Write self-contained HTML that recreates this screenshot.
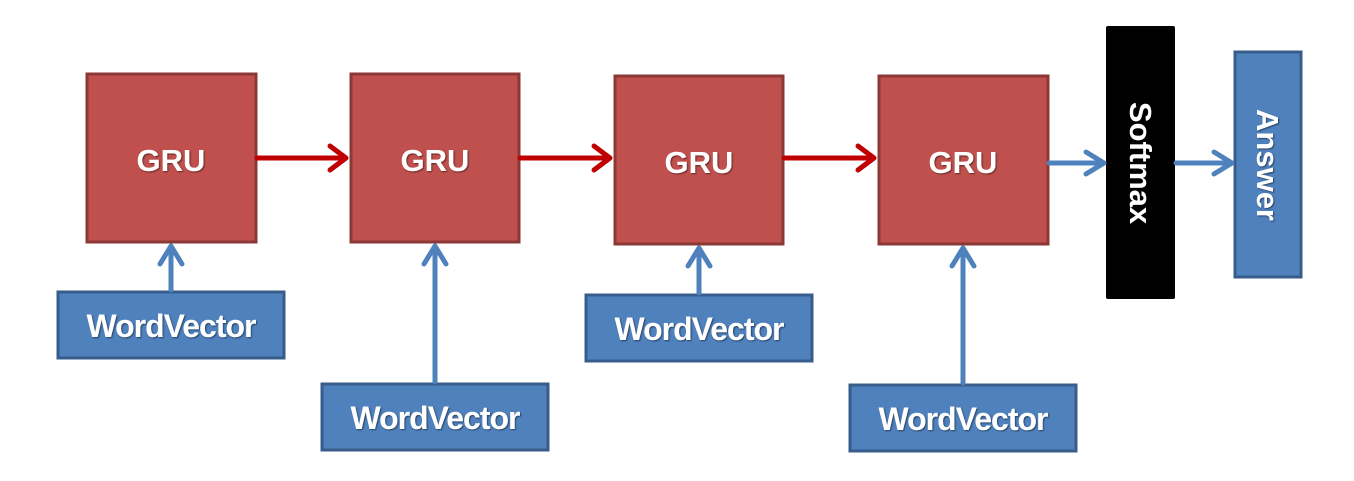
<!DOCTYPE html>
<html><head><style>
html,body{margin:0;padding:0;background:#fff;}
svg text{font-family:"Liberation Sans",sans-serif;font-weight:bold;fill:#fff;}
</style></head><body>
<svg width="1354" height="476" viewBox="0 0 1354 476" xmlns="http://www.w3.org/2000/svg">
<defs>
<filter id="sh"><feDropShadow dx="1" dy="1" stdDeviation="0.8" flood-color="#000" flood-opacity="0.5"/></filter>
</defs>
<g fill="#c0504d" stroke="#8c3836" stroke-width="3">
<rect x="87" y="74" width="169" height="168"/>
<rect x="351" y="74" width="168" height="168"/>
<rect x="615" y="76" width="168" height="168"/>
<rect x="879" y="76" width="169" height="168"/>
</g>
<g fill="#4f81bd" stroke="#385d8a" stroke-width="3">
<rect x="58" y="292" width="226" height="66"/>
<rect x="322" y="384" width="226" height="66"/>
<rect x="586" y="295" width="226" height="66"/>
<rect x="850" y="385" width="226" height="66"/>
<rect x="1235" y="52" width="66" height="225"/>
</g>
<rect x="1106" y="26" width="69" height="273" rx="2" fill="#000"/>
<g stroke="#c00000" stroke-width="5" fill="none" stroke-linecap="round" stroke-linejoin="round">
<path d="M257 158H346M330 146L346 158L330 170"/>
<path d="M520 158H610M594 146L610 158L594 170"/>
<path d="M784 158H874M858 146L874 158L858 170"/>
</g>
<g stroke="#4f81bd" stroke-width="5" fill="none" stroke-linecap="round" stroke-linejoin="round">
<path d="M1049 163H1104M1086 152L1104 163L1086 174"/>
<path d="M1176 163H1232M1214 152L1232 163L1214 174"/>
<path d="M171 290V246M160 264L171 246L182 264"/>
<path d="M435 382V246M424 264L435 246L446 264"/>
<path d="M699 293V248M688 266L699 248L710 266"/>
<path d="M963 383V248M952 266L963 248L974 266"/>
</g>
<g filter="url(#sh)" font-size="31" text-anchor="middle">
<text x="171" y="171">GRU</text>
<text x="435" y="171">GRU</text>
<text x="699" y="173">GRU</text>
<text x="963" y="173">GRU</text>
<text x="171" y="337" font-size="32" letter-spacing="-1">WordVector</text>
<text x="435" y="429" font-size="32" letter-spacing="-1">WordVector</text>
<text x="699" y="340" font-size="32" letter-spacing="-1">WordVector</text>
<text x="963" y="430" font-size="32" letter-spacing="-1">WordVector</text>
<text transform="translate(1130,163) rotate(90)" font-size="31">Softmax</text>
<text transform="translate(1257,165) rotate(90)" font-size="31">Answer</text>
</g>
</svg>
</body></html>
